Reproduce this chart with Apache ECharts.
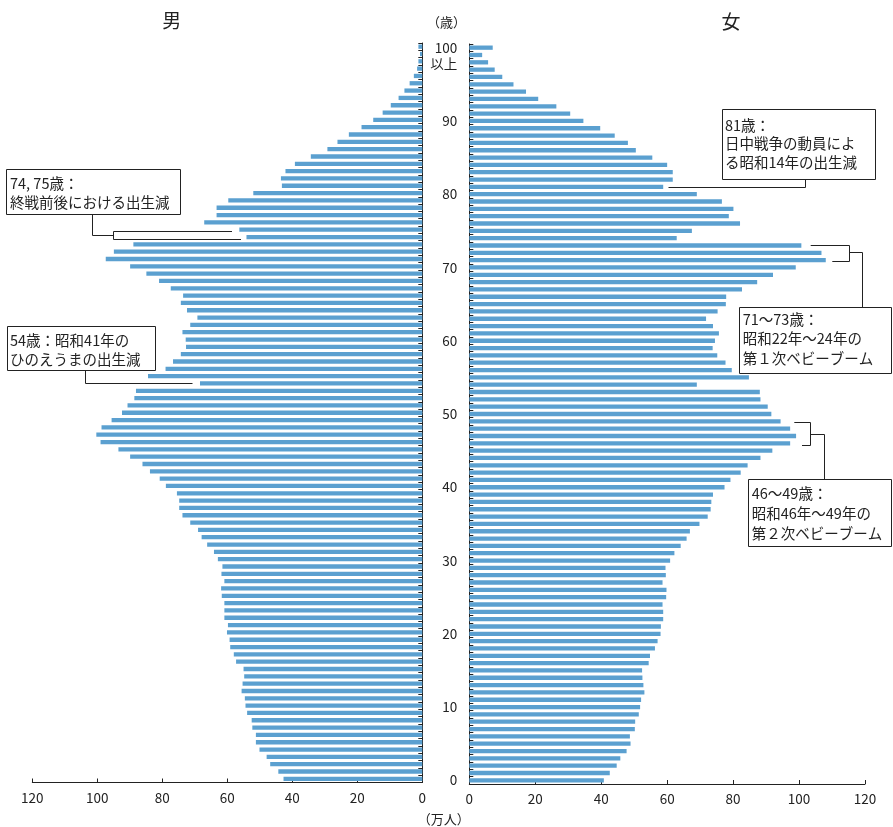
<!DOCTYPE html>
<html>
<head>
<meta charset="utf-8">
<script src="https://cdn.jsdelivr.net/npm/echarts@6/dist/echarts.min.js"></script>
<style>
html,body{margin:0;padding:0;background:#fff;}
#c{width:893px;height:827px;}
</style>
</head>
<body>
<div id="c"></div>
<script>
const ages = ['0','1','2','3','4','5','6','7','8','9','10','11','12','13','14','15','16','17','18','19',
'20','21','22','23','24','25','26','27','28','29','30','31','32','33','34','35','36','37','38','39',
'40','41','42','43','44','45','46','47','48','49','50','51','52','53','54','55','56','57','58','59',
'60','61','62','63','64','65','66','67','68','69','70','71','72','73','74','75','76','77','78','79',
'80','81','82','83','84','85','86','87','88','89','90','91','92','93','94','95','96','97','98','99','100以上'];

const male = [42.7,44.3,46.8,47.9,50.1,51.2,51.2,52.3,52.5,53.9,
54.4,54.6,55.6,55.3,54.8,55.0,57.3,58.0,59.1,59.3,
60.1,59.8,60.9,60.9,60.9,61.7,61.9,60.9,61.8,61.5,
62.9,64.1,66.2,67.9,69.0,71.4,73.8,74.8,74.8,75.5,
78.9,80.8,83.8,86.1,89.9,93.5,99.0,100.3,98.7,95.6,
92.4,90.7,88.6,88.1,68.4,84.4,79.0,76.7,74.3,72.7,
72.8,73.8,71.4,69.2,72.4,74.3,73.6,77.4,81.0,84.9,
89.9,97.4,94.9,88.9,54.1,56.3,67.1,63.3,63.3,59.7,
52.0,43.2,43.5,42.1,39.2,34.3,29.2,26.1,22.6,18.7,
15.1,12.2,9.7,7.3,5.5,3.9,2.6,1.6,1.2,0.7,1.2];

const female = [40.8,42.6,44.7,45.8,47.7,48.9,48.7,50.2,50.3,51.4,
51.8,52.1,53.1,52.8,52.5,52.4,54.4,54.8,56.3,57.1,
58.0,58.1,58.8,58.8,58.6,59.7,59.8,58.6,59.6,59.5,
60.9,62.2,64.1,65.9,66.9,69.8,72.3,73.2,73.4,73.9,
77.4,79.2,82.3,84.4,88.3,91.9,97.3,99.1,97.3,94.4,
91.6,90.5,88.3,88.1,69.0,84.8,79.6,77.7,75.2,73.8,
74.5,75.7,73.9,71.8,75.3,77.8,77.9,82.7,87.3,92.1,
99.0,108.1,106.8,100.7,62.9,67.5,82.1,78.7,80.1,76.6,
69.0,58.8,61.7,61.7,60.0,55.5,50.5,48.1,44.1,39.7,
34.6,30.6,26.4,20.9,17.2,13.4,10.0,7.7,5.7,3.9,7.1];

const xTicks = {min: 0, max: 120, interval: 20};
const titles = {male: '男', female: '女', age: '（歳）', unit: '（万人）'};
const notes = [
  ['74, 75歳：', '終戦前後における出生減'],
  ['54歳：昭和41年の', 'ひのえうまの出生減'],
  ['81歳：', '日中戦争の動員によ', 'る昭和14年の出生減'],
  ['71～73歳：', '昭和22年～24年の', '第１次ベビーブーム'],
  ['46～49歳：', '昭和46年～49年の', '第２次ベビーブーム']
];

const FONT = '"Noto Sans CJK JP", sans-serif';
const INK = '#222';
const BAR = '#5ba0d0';

const chart = echarts.init(document.getElementById('c'), null, {renderer: 'canvas'});

function box(x, y, w, h, lines, tx, ty, lh) {
  return {
    type: 'group',
    children: [
      {type: 'rect', shape: {x: x + 0.5, y: y + 0.5, width: w, height: h},
       style: {fill: '#fff', stroke: INK, lineWidth: 1}},
      {type: 'text', x: tx, y: ty,
       style: {text: lines.join('\n'), font: '14.5px ' + FONT, fill: INK,
               lineHeight: lh, verticalAlign: 'top', align: 'left'}}
    ]
  };
}
function line(points) {
  return {type: 'polyline', shape: {points: points},
          style: {stroke: INK, lineWidth: 1, fill: null}};
}

const option = {
  animation: false,
  backgroundColor: '#fff',
  grid: [
    {left: 32.3, width: 390, top: 43, height: 739.5, containLabel: false},
    {left: 469.3, width: 395.7, top: 44, height: 740, containLabel: false}
  ],
  xAxis: [
    {type: 'value', gridIndex: 0, inverse: true, min: xTicks.min, max: xTicks.max, interval: xTicks.interval,
     position: 'bottom',
     axisLine: {show: true, lineStyle: {color: INK, width: 1}},
     axisTick: {show: true, inside: true, length: 4, lineStyle: {color: INK}},
     axisLabel: {show: true, margin: 9, fontSize: 13.5, color: INK, fontFamily: FONT},
     splitLine: {show: false}},
    {type: 'value', gridIndex: 1, min: xTicks.min, max: xTicks.max, interval: xTicks.interval,
     position: 'bottom',
     axisLine: {show: true, lineStyle: {color: INK, width: 1}},
     axisTick: {show: true, inside: true, length: 4, lineStyle: {color: INK}},
     axisLabel: {show: true, margin: 8, fontSize: 13.5, color: INK, fontFamily: FONT},
     splitLine: {show: false}}
  ],
  yAxis: [
    {type: 'category', gridIndex: 0, data: ages, position: 'right',
     axisLine: {show: true, onZero: false, lineStyle: {color: INK, width: 1}},
     axisTick: {show: true, inside: true, length: 4, interval: 0, lineStyle: {color: INK}},
     axisLabel: {show: false},
     splitLine: {show: false}},
    {type: 'category', gridIndex: 1, data: ages, position: 'left',
     axisLine: {show: true, onZero: false, lineStyle: {color: INK, width: 1}},
     axisTick: {show: true, inside: true, length: 4, interval: 0, lineStyle: {color: INK}},
     axisLabel: {show: true, margin: 12, fontSize: 13.5, color: INK, fontFamily: FONT, lineHeight: 16.5,
                 interval: function (i) { return i % 10 === 0; },
                 formatter: function (v) { return v === '100以上' ? ' \n100\n以上' : v; }},
     splitLine: {show: false}}
  ],
  series: [
    {type: 'bar', xAxisIndex: 0, yAxisIndex: 0, data: male, barWidth: 4.3,
     itemStyle: {color: BAR}, silent: true},
    {type: 'bar', xAxisIndex: 1, yAxisIndex: 1, data: female, barWidth: 4.3,
     itemStyle: {color: BAR}, silent: true}
  ],
  graphic: [
    {type: 'text', x: 171.7, y: 21, style: {text: titles.male, font: '19px ' + FONT, fill: INK, align: 'center', verticalAlign: 'middle'}},
    {type: 'text', x: 731, y: 21.3, style: {text: titles.female, font: '19px ' + FONT, fill: INK, align: 'center', verticalAlign: 'middle'}},
    {type: 'text', x: 446.5, y: 21.7, style: {text: titles.age, font: '13px ' + FONT, fill: INK, align: 'center', verticalAlign: 'middle'}},
    {type: 'text', x: 443.7, y: 819, style: {text: titles.unit, font: '13px ' + FONT, fill: INK, align: 'center', verticalAlign: 'middle'}},

    box(6, 169, 174, 45, notes[0], 10, 173.3, 19.5),
    line([[92.5, 214.5], [92.5, 235.5], [113.5, 235.5]]),
    line([[232, 231.5], [113.5, 231.5], [113.5, 239.5], [241, 239.5]]),

    box(7, 326, 148, 44, notes[1], 10, 330.5, 19),
    line([[85.5, 370.5], [85.5, 383.5], [192.5, 383.5]]),

    box(722, 109, 153, 70, notes[2], 725, 115.6, 18.8),
    line([[805.5, 179.5], [805.5, 187.5], [668.5, 187.5]]),

    box(739, 307, 152, 66, notes[3], 742.7, 309.6, 19.5),
    line([[862.5, 307.5], [862.5, 252.5], [849.5, 252.5]]),
    line([[810.7, 245.5], [849.5, 245.5], [849.5, 261.5], [832.3, 261.5]]),

    box(748, 479, 143, 67, notes[4], 751.7, 483, 20.3),
    line([[824.5, 479.5], [824.5, 434.5], [810.5, 434.5]]),
    line([[794.3, 422.5], [810.5, 422.5], [810.5, 445.5], [802, 445.5]])
  ]
};
chart.setOption(option);
</script>
</body>
</html>
